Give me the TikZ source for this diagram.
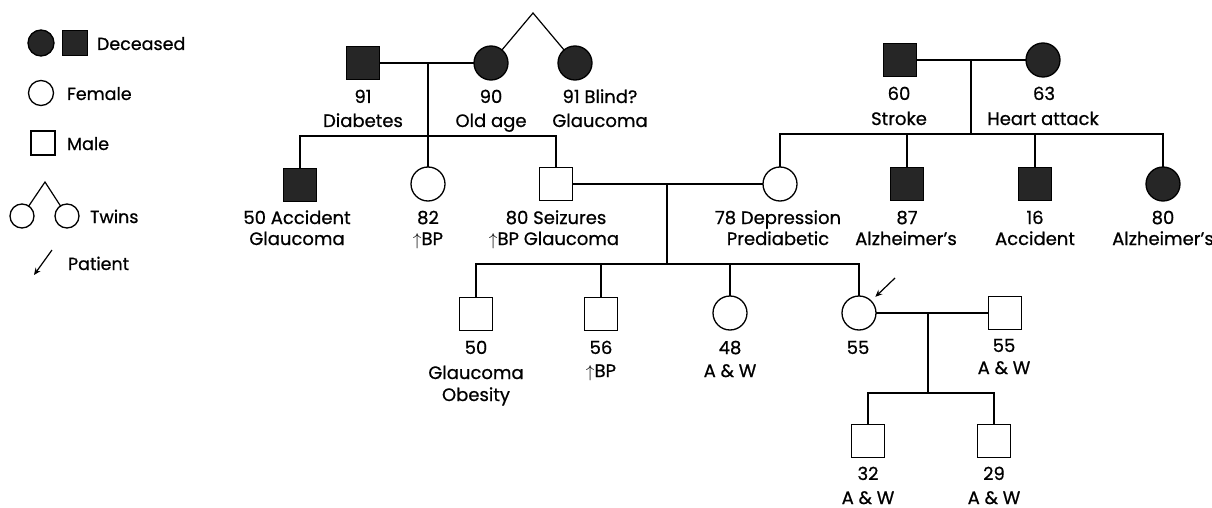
\documentclass[tikz,border=0pt]{standalone}
\usepackage{fontspec}
\setmainfont{Poppins}[FakeBold=0.7]
\usetikzlibrary{arrows.meta}
\begin{document}
\begin{tikzpicture}[x=1pt,y=-1pt,
  every node/.style={inner sep=0pt, outer sep=0pt},
  male/.style={draw, line width=1.3pt, rectangle, minimum size=33pt},
  fem/.style={draw, line width=1.3pt, circle, minimum size=34pt},
  dead/.style={fill=black!85},
  lbl/.style={font=\fontsize{18}{21}\selectfont, anchor=base},
  leg/.style={font=\fontsize{17.5}{21}\selectfont, anchor=base west},
  link/.style={line width=1.2pt},
  pat/.style={line width=1.2pt, -{Stealth[length=7pt,width=6pt]}}
]
\useasboundingbox (0,0) rectangle (1212,508);
% ---------- legend
\node[fem,dead,minimum size=26pt] (lgdc) at (41,43) {};
\node[male,dead,minimum size=25pt] (lgds) at (75,43) {};
\node[leg] (lgdt) at (97,50) {Deceased};
\node[fem,minimum size=25pt] (lgf) at (41,93) {};
\node[leg] (lgft) at (67,100) {Female};
\node[male,minimum size=24pt] (lgm) at (43,143) {};
\node[leg] (lgmt) at (67,150) {Male};
\coordinate (lgtw) at (45,182);
\node[fem,minimum size=24pt] (lgt1) at (22,216) {};
\node[fem,minimum size=24pt] (lgt2) at (67,216) {};
\draw[link] (lgt1) -- (lgtw) -- (lgt2);
\node[leg] (lgtt) at (90,223) {Twins};
\coordinate (lgpa) at (52,250);
\coordinate (lgpb) at (34,275);
\draw[pat] (lgpa) -- (lgpb);
\node[leg] (lgpt) at (68,270) {Patient};
% ---------- generation I, left
\node[male,dead] (gpa) at (363,63) {};
\node[fem,dead] (gma) at (491,63) {};
\node[fem,dead] (gaunt) at (575,63) {};
\coordinate (tw) at (533,13);
\draw[link] (gma) -- (tw) -- (gaunt);
\draw[link] (gpa) -- (gma);
\coordinate (m1) at (428,63);
\coordinate (sib1) at (428,136);
\node[lbl] (t91a) at (363,103) {91};
\node[lbl] (t91b) at (363,127) {Diabetes};
\node[lbl] (t90a) at (491,103) {90};
\node[lbl] (t90b) at (491,127) {Old age};
\node[lbl] (t91ca) at (600,103) {91 Blind?};
\node[lbl] (t91cb) at (600,127) {Glaucoma};
% ---------- generation I, right
\node[male,dead] (gpb) at (900,60) {};
\node[fem,dead] (gmb) at (1043,60) {};
\draw[link] (gpb) -- (gmb);
\coordinate (m3) at (971,60);
\coordinate (sib3) at (971,134);
\node[lbl] (t60a) at (899,100) {60};
\node[lbl] (t60b) at (899,125) {Stroke};
\node[lbl] (t63a) at (1044,100) {63};
\node[lbl] (t63b) at (1043,125) {Heart attack};
% ---------- generation II
\node[male,dead] (u50) at (300,185) {};
\node[fem] (a82) at (428,184) {};
\node[male] (f80) at (556,184) {};
\draw[link] (m1) -- (a82);
\draw[link] (u50) |- (sib1) -| (f80);
\node[fem] (m78) at (780,184) {};
\node[male,dead] (u87) at (907,184) {};
\node[male,dead] (u16) at (1035,184) {};
\node[fem,dead] (a80) at (1163,184) {};
\draw[link] (m3) -- (sib3);
\draw[link] (m78) |- (sib3) -| (a80);
\draw[link] (u87) -- (u87 |- sib3);
\draw[link] (u16) -- (u16 |- sib3);
\draw[link] (f80) -- (m78);
\node[lbl] (t50a) at (297,224) {50 Accident};
\node[lbl] (t50b) at (297,245) {Glaucoma};
\node[lbl] (t82a) at (428,224) {82};
\node[lbl] (t82b) at (428,245) {$\uparrow$BP};
\node[lbl] (t80a) at (556,224) {80 Seizures};
\node[lbl] (t80b) at (554,245) {$\uparrow$BP Glaucoma};
\node[lbl] (t78a) at (778,224) {78 Depression};
\node[lbl] (t78b) at (778,245) {Prediabetic};
\node[lbl] (t87a) at (907,224) {87};
\node[lbl] (t87b) at (906,245) {Alzheimer's};
\node[lbl] (t16a) at (1035,224) {16};
\node[lbl] (t16b) at (1035,245) {Accident};
\node[lbl] (t80ra) at (1163,224) {80};
\node[lbl] (t80rb) at (1163,245) {Alzheimer's};
% ---------- generation III
\coordinate (m2) at (667,184);
\coordinate (sib2) at (667,264);
\node[male] (k50) at (476,314) {};
\node[male] (k56) at (601,314) {};
\node[fem] (k48) at (730,313) {};
\node[fem] (k55) at (859,313) {};
\node[male] (h55) at (1005,313) {};
\draw[link] (m2) -- (sib2);
\draw[link] (k50) |- (sib2) -| (k55);
\draw[link] (k56) -- (k56 |- sib2);
\draw[link] (k48) -- (k48 |- sib2);
\draw[link] (k55) -- (h55);
\coordinate (pta) at (895,278);
\draw[pat, shorten >=6pt] (pta) -- (k55.north east);
\node[lbl] (tk50a) at (476,354) {50};
\node[lbl] (tk50b) at (476,379) {Glaucoma};
\node[lbl] (tk50c) at (476,401) {Obesity};
\node[lbl] (tk56a) at (601,354) {56};
\node[lbl] (tk56b) at (601,377) {$\uparrow$BP};
\node[lbl] (tk48a) at (730,354) {48};
\node[lbl] (tk48b) at (730,377) {A \& W};
\node[lbl] (tk55a) at (858,354) {55};
\node[lbl] (th55a) at (1004,352) {55};
\node[lbl] (th55b) at (1004,374) {A \& W};
% ---------- generation IV
\coordinate (m4) at (928,313);
\coordinate (sib4) at (928,393);
\node[male] (g32) at (868,441) {};
\node[male] (g29) at (994,441) {};
\draw[link] (m4) -- (sib4);
\draw[link] (g32) |- (sib4) -| (g29);
\node[lbl] (tg32a) at (868,480) {32};
\node[lbl] (tg32b) at (868,504) {A \& W};
\node[lbl] (tg29a) at (994,480) {29};
\node[lbl] (tg29b) at (994,504) {A \& W};
\end{tikzpicture}
\end{document}
